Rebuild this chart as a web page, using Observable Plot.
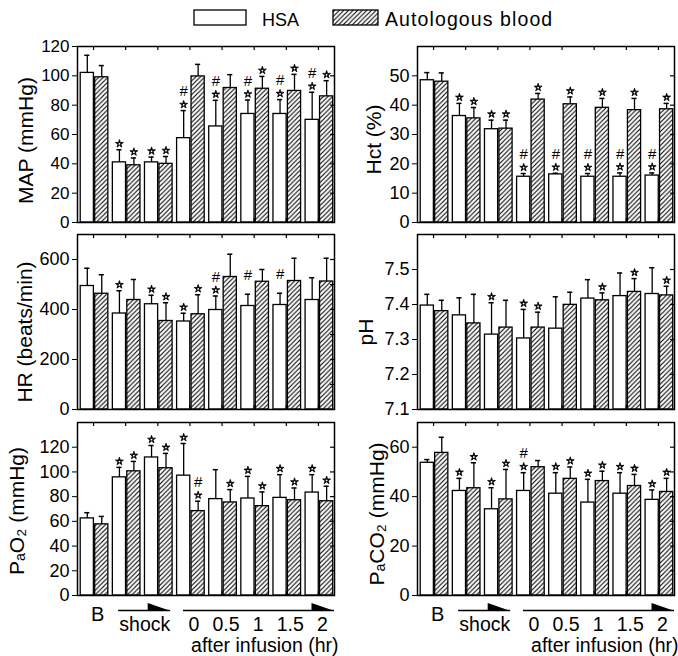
<!DOCTYPE html>
<html><head><meta charset="utf-8">
<script src="https://cdn.jsdelivr.net/npm/d3@7"></script>
<script src="https://cdn.jsdelivr.net/npm/@observablehq/plot@0.6"></script>
<style>
body{margin:0;background:#fff;}
#root{position:relative;width:678px;height:656px;overflow:hidden;font-family:"Liberation Sans",Arial,Helvetica,sans-serif;}
.panel{position:absolute;}
</style></head><body><div id="root">
<svg id="legend" width="678" height="34" style="position:absolute;left:0;top:0">
<defs><pattern id="hatch" patternUnits="userSpaceOnUse" width="4.6" height="4.6"><path d="M-1,1 L1,-1 M0,4.6 L4.6,0 M3.6,5.6 L5.6,3.6" stroke="black" stroke-width="1.1" fill="none"/></pattern></defs>
</svg>
</div>
<script>
// ---------- data ----------
const seriesNames = ["HSA", "Autologous blood"];
const groups = ["B", "shock-1", "shock-2", "0", "0.5", "1", "1.5", "2"];
const baselineLabel = "B";
const phaseLabel = "shock";
const infusionTimes = ["0", "0.5", "1", "1.5", "2"];
const infusionTitle = "after infusion (hr)";

// MAP (mmHg)
const mapHSA      = [102, 41, 41, 57.5, 65.5, 74, 74, 70];
const mapHSAsd    = [12, 8.6, 3.6, 18.8, 17.8, 9.5, 9.8, 18.8];
const mapHSAstar  = [0, 1, 1, 1, 1, 1, 1, 1];
const mapHSAhash  = [0, 0, 0, 1, 1, 1, 1, 1];
const mapBlood     = [99, 39, 40, 99.6, 91.7, 91.2, 89.7, 86];
const mapBloodsd   = [8, 5, 5, 8.2, 9.1, 8.4, 11.3, 10.7];
const mapBloodstar = [0, 1, 1, 0, 0, 1, 1, 1];
const mapBloodhash = [0, 0, 0, 0, 0, 0, 0, 0];

// Hct (%)
const hctHSA      = [48.5, 36.3, 31.8, 15.6, 16.4, 15.6, 15.6, 16];
const hctHSAsd    = [2.6, 4.3, 3.1, 1.1, 0.4, 1.1, 1.3, 0.9];
const hctHSAstar  = [0, 1, 1, 1, 1, 1, 1, 1];
const hctHSAhash  = [0, 0, 0, 1, 1, 1, 1, 1];
const hctBlood     = [48, 35.5, 32, 41.9, 40.3, 39.1, 38.3, 38.6];
const hctBloodsd   = [3, 3.7, 2.9, 2.1, 2.5, 3.2, 4, 2];
const hctBloodstar = [0, 1, 1, 1, 1, 1, 1, 1];
const hctBloodhash = [0, 0, 0, 0, 0, 0, 0, 0];

// HR (beats/min)
const hrHSA      = [494, 384, 421, 352, 398, 414, 418, 438];
const hrHSAsd    = [71, 91, 36, 33, 56, 47, 47, 89];
const hrHSAstar  = [0, 1, 1, 1, 1, 0, 0, 0];
const hrHSAhash  = [0, 0, 0, 0, 1, 1, 1, 0];
const hrBlood     = [463, 438, 354, 381, 530, 511, 514, 512];
const hrBloodsd   = [76, 82, 73, 78, 91, 49, 91, 93];
const hrBloodstar = [0, 0, 1, 1, 0, 0, 0, 0];
const hrBloodhash = [0, 0, 0, 0, 0, 0, 0, 0];

// pH
const phHSA      = [7.397, 7.369, 7.314, 7.303, 7.331, 7.417, 7.424, 7.430];
const phHSAsd    = [0.032, 0.05, 0.091, 0.083, 0.091, 0.054, 0.066, 0.075];
const phHSAstar  = [0, 0, 1, 1, 0, 0, 0, 0];
const phHSAhash  = [0, 0, 0, 0, 0, 0, 0, 0];
const phBlood     = [7.381, 7.346, 7.334, 7.334, 7.399, 7.412, 7.436, 7.426];
const phBloodsd   = [0.031, 0.083, 0.078, 0.044, 0.036, 0.021, 0.038, 0.026];
const phBloodstar = [0, 0, 0, 1, 0, 1, 1, 1];
const phBloodhash = [0, 0, 0, 0, 0, 0, 0, 0];

// PaO2 (mmHg)
const po2HSA      = [62.4, 95.6, 111.7, 97, 78, 78.5, 79, 83.3];
const po2HSAsd    = [4.6, 8.1, 9.7, 26, 23.8, 17.9, 18.8, 14.5];
const po2HSAstar  = [0, 1, 1, 1, 0, 1, 1, 1];
const po2HSAhash  = [0, 0, 0, 0, 0, 0, 0, 0];
const po2Blood     = [57.6, 100.5, 103, 68.3, 75.3, 72.3, 77.1, 76.3];
const po2Bloodsd   = [6.4, 8, 12, 8, 10.4, 11.5, 9.9, 12.1];
const po2Bloodstar = [0, 1, 1, 1, 1, 1, 1, 1];
const po2Bloodhash = [0, 0, 0, 1, 0, 0, 0, 0];

// PaCO2 (mmHg)
const pco2HSA      = [53.7, 42.3, 34.9, 42.3, 41.2, 37.6, 41.2, 38.7];
const pco2HSAsd    = [1.3, 5.1, 8.7, 7.4, 8.5, 9.4, 8.5, 4];
const pco2HSAstar  = [0, 1, 1, 1, 1, 1, 1, 1];
const pco2HSAhash  = [0, 0, 0, 1, 0, 0, 0, 0];
const pco2Blood     = [57.7, 43.4, 38.9, 51.9, 47.2, 46.3, 44.3, 41.9];
const pco2Bloodsd   = [6.3, 10.3, 12.1, 2.7, 4.8, 4, 4.7, 5.5];
const pco2Bloodstar = [0, 1, 1, 0, 1, 1, 1, 1];
const pco2Bloodhash = [0, 0, 0, 0, 0, 0, 0, 0];

// ---------- helpers ----------
const FONT = '"Liberation Sans",Arial,Helvetica,sans-serif';
const OFF = [0.1, 0.55];   // bar offset within a group (x units)
const BW = 0.41;           // bar width (x units)

function build(a, asd, ast, ah, b, bsd, bst, bh) {
  const rows = [];
  groups.forEach((g, i) => {
    rows.push({g: i, s: 0, v: a[i], sd: asd[i], star: ast[i], hash: ah[i]});
    rows.push({g: i, s: 1, v: b[i], sd: bsd[i], star: bst[i], hash: bh[i]});
  });
  return rows;
}

const root = document.getElementById("root");

// legend
(function legend() {
  const svg = d3.select("#legend");
  const items = [{x: 194, w: 52, tx: 262, fill: "white", fs: 18, ls: 0},
                 {x: 333, w: 45, tx: 385, fill: "url(#hatch)", fs: 19.5, ls: 1.1}];
  seriesNames.forEach((name, i) => {
    const it = items[i];
    svg.append("rect").attr("x", it.x).attr("y", 10).attr("width", it.w).attr("height", 15)
      .attr("fill", it.fill).attr("stroke", "black").attr("stroke-width", 1.3);
    svg.append("text").attr("x", it.tx).attr("y", 25.5).text(name)
      .attr("font-family", FONT).attr("font-size", it.fs).attr("letter-spacing", it.ls);
  });
})();

function panel(cfg) {
  const {rows, domain, ticks, minor, fmt, label, labelDx, labelDy = 0, col, row, tickFont = 17} = cfg;
  const bottom = row === 2;
  const frameTop = [46, 234, 422][row], frameBottom = [222, 409, 595][row];
  const mt = 8, mb = bottom ? 656 - frameBottom : 4;
  const H = frameBottom - frameTop;
  const width = col === 0 ? 340 : 338;
  const ml = 77, mr = col === 0 ? 6 : 4;
  const W = width - ml - mr;
  const base = domain[0];
  const x1 = d => d.g + OFF[d.s];
  const x2 = d => d.g + OFF[d.s] + BW;
  const cx = d => d.g + OFF[d.s] + BW / 2;
  const top = d => d.v + d.sd;
  const centers = groups.map((g, i) => i + 0.5);
  const starred = rows.filter(d => d.star);
  const marks = [
    Plot.rect(rows.filter(d => d.s === 0), {x1, x2, y1: base, y2: "v", fill: "white", stroke: "black", strokeWidth: 1.3}),
    Plot.rect(rows.filter(d => d.s === 1), {x1, x2, y1: base, y2: "v", fill: "url(#hatch)", stroke: "black", strokeWidth: 1.3}),
    Plot.ruleX(rows, {x: cx, y1: "v", y2: top, stroke: "black", strokeWidth: 1.3}),
    Plot.ruleY(rows, {y: top, x1: d => cx(d) - 0.08, x2: d => cx(d) + 0.08, stroke: "black", strokeWidth: 1.5}),
    Plot.dot(starred, {x: cx, y: top, dy: -6, symbol: "star", r: 2.5, fill: "black", stroke: "black", strokeWidth: 0.8}),
    Plot.dot(starred, {x: cx, y: top, dy: -5.8, r: 0.9, fill: "white", stroke: "none"}),
    Plot.text(rows.filter(d => d.hash), {x: cx, y: top, dy: -19, text: () => "#", fontSize: 15}),
    Plot.frame({stroke: "black", strokeWidth: 1.5}),
    Plot.tickX(centers, {x: d => d, insetBottom: H - 4, stroke: "black", strokeWidth: 1.2}),
    Plot.tickX(centers, {x: d => d, insetTop: H - 4, stroke: "black", strokeWidth: 1.2}),
    Plot.tickY(minor, {y: d => d, insetLeft: W - 4, stroke: "black", strokeWidth: 1.2}),
    Plot.text([label], {frameAnchor: "left", textAnchor: "middle", lineAnchor: "middle", rotate: -90,
      dx: labelDx, dy: labelDy, text: d => d, fontSize: 21})
  ];
  if (bottom) {
    marks.push(
      Plot.text([baselineLabel], {x: 0.5, frameAnchor: "bottom", lineAnchor: "middle", dx: 4, dy: 19, text: d => d, fontSize: 20}),
      Plot.text([phaseLabel], {x: 2, frameAnchor: "bottom", lineAnchor: "middle", dx: 3, dy: 29, text: d => d, fontSize: 19.5}),
      Plot.text(infusionTimes, {x: (d, i) => 3.5 + i, frameAnchor: "bottom", lineAnchor: "middle", dx: 4, dy: 29, text: d => d, fontSize: 19.5}),
      Plot.text([infusionTitle], {x: 8, frameAnchor: "bottom", lineAnchor: "middle", textAnchor: "end", dx: 4, dy: 50, text: d => d, fontSize: 19.5}),
      Plot.ruleY([base], {x1: 1.28, x2: 2.9, dy: 15, stroke: "black", strokeWidth: 1.4}),
      Plot.ruleY([base], {x1: 3.3, x2: 8, dy: 15, stroke: "black", strokeWidth: 1.4})
    );
  }
  const plot = Plot.plot({
    width, height: mt + H + mb,
    marginLeft: ml, marginRight: mr, marginTop: mt, marginBottom: mb,
    x: {domain: [0, 8], axis: null},
    y: {domain, ticks, tickFormat: fmt, tickSize: 5, tickPadding: 3, label: null},
    style: {fontFamily: FONT, fontSize: tickFont + "px", color: "black", background: "transparent", overflow: "visible"},
    marks
  });
  if (bottom) {
    const sx = plot.scale("x");
    const yb = mt + H + 15;
    const svg = d3.select(plot);
    [[2.2, 2.9], [7.3, 8]].forEach(([a, b]) => {
      svg.append("polygon")
        .attr("points", `${sx.apply(a)},${yb - 7} ${sx.apply(b)},${yb + 0.7} ${sx.apply(a)},${yb + 0.7}`)
        .attr("fill", "black");
    });
  }
  plot.classList.add("panel");
  plot.style.left = (col === 0 ? 0 : 340) + "px";
  plot.style.top = (frameTop - mt) + "px";
  root.appendChild(plot);
}

const f0 = d3.format("d"), f1 = d3.format(".1f");
panel({rows: build(mapHSA, mapHSAsd, mapHSAstar, mapHSAhash, mapBlood, mapBloodsd, mapBloodstar, mapBloodhash),
  domain: [0, 120], ticks: d3.range(0, 121, 20), minor: d3.range(20, 120, 20), fmt: f0,
  label: "MAP (mmHg)", labelDx: -51, labelDy: 6, col: 0, row: 0, tickFont: 17});
panel({rows: build(hctHSA, hctHSAsd, hctHSAstar, hctHSAhash, hctBlood, hctBloodsd, hctBloodstar, hctBloodhash),
  domain: [0, 60], ticks: d3.range(0, 51, 10), minor: d3.range(10, 60, 10), fmt: f0,
  label: "Hct (%)", labelDx: -43, labelDy: 5, col: 1, row: 0, tickFont: 18});
panel({rows: build(hrHSA, hrHSAsd, hrHSAstar, hrHSAhash, hrBlood, hrBloodsd, hrBloodstar, hrBloodhash),
  domain: [0, 700], ticks: [0, 200, 400, 600], minor: d3.range(100, 700, 100), fmt: f0,
  label: "HR (beats/min)", labelDx: -52, labelDy: 10, col: 0, row: 1, tickFont: 18});
panel({rows: build(phHSA, phHSAsd, phHSAstar, phHSAhash, phBlood, phBloodsd, phBloodstar, phBloodhash),
  domain: [7.1, 7.6], ticks: [7.1, 7.2, 7.3, 7.4, 7.5], minor: [7.2, 7.3, 7.4, 7.5], fmt: f1,
  label: "pH", labelDx: -51, labelDy: 10, col: 1, row: 1, tickFont: 18});
panel({rows: build(po2HSA, po2HSAsd, po2HSAstar, po2HSAhash, po2Blood, po2Bloodsd, po2Bloodstar, po2Bloodhash),
  domain: [0, 140], ticks: d3.range(0, 121, 20), minor: d3.range(20, 140, 20), fmt: f0,
  label: "PₐO₂ (mmHg)", labelDx: -60, labelDy: 2, col: 0, row: 2, tickFont: 18});
panel({rows: build(pco2HSA, pco2HSAsd, pco2HSAstar, pco2HSAhash, pco2Blood, pco2Bloodsd, pco2Bloodstar, pco2Bloodhash),
  domain: [0, 70], ticks: [0, 20, 40, 60], minor: d3.range(10, 70, 10), fmt: f0,
  label: "PₐCO₂ (mmHg)", labelDx: -40, labelDy: 5, col: 1, row: 2, tickFont: 18});
</script></body></html>
